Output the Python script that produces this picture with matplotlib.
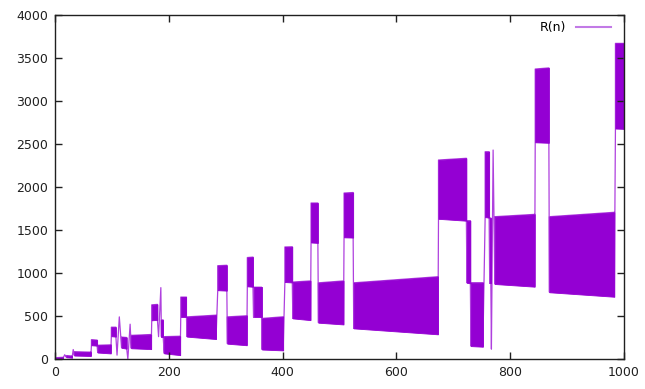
import numpy as np
import matplotlib
matplotlib.use("Agg")
import matplotlib.pyplot as plt

# pieces of R(n): each one is a band where the sequence flips between a high
# and a low value (n0..n1); a piece with n0 == n1 and hi == lo is a lone point
n0 = [0, 17, 20, 32, 34, 64, 75, 99, 109, 113, 117, 128, 132, 134, 170, 182, 186, 187,
      192, 221, 232, 286, 303, 338, 349, 364, 404, 418, 450, 463, 508, 525, 674, 724,
      731, 756, 764, 767, 770, 773, 844, 869, 985]
n1 = [14, 17, 30, 32, 63, 74, 98, 107, 109, 113, 126, 128, 132, 169, 180, 182, 186, 190,
      220, 231, 283, 302, 337, 348, 363, 401, 417, 449, 462, 507, 524, 673, 723, 730,
      752, 763, 766, 767, 770, 843, 868, 983, 1000]
hi0 = [15, 50, 40, 110, 85, 225, 160, 370, 45, 490, 255, 0, 405, 275, 630, 260, 830, 455,
       260, 720, 490, 1085, 490, 1180, 835, 472, 1303, 895, 1814, 886, 1930, 886, 2314, 1608,
       887, 2410, 1640, 115, 2430, 1655, 3372, 1655, 3670]
hi1 = [20, 50, 35, 110, 80, 220, 165, 370, 45, 490, 250, 0, 405, 285, 635, 260, 830, 455,
       265, 720, 510, 1090, 503, 1185, 835, 491, 1305, 908, 1814, 908, 1936, 957, 2334, 1608,
       887, 2410, 1640, 115, 2430, 1682, 3385, 1706, 3670]
lo0 = [0, 50, 20, 110, 40, 160, 75, 265, 45, 490, 130, 0, 405, 125, 450, 260, 830, 260,
       65, 490, 260, 800, 178, 845, 484, 110, 895, 472, 1355, 422, 1415, 356, 1630, 885,
       150, 1650, 880, 115, 2430, 872, 2520, 776, 2680]
lo1 = [5, 50, 15, 110, 35, 155, 65, 260, 45, 490, 120, 0, 405, 115, 455, 260, 830, 260,
       45, 490, 232, 795, 160, 840, 484, 100, 890, 452, 1350, 402, 1412, 287, 1608, 880,
       143, 1643, 880, 115, 2430, 841, 2514, 724, 2676]

xticks = [0, 200, 400, 600, 800, 1000]
yticks = [0, 500, 1000, 1500, 2000, 2500, 3000, 3500, 4000]

color = "#9400d3"

fig = plt.figure(figsize=(6.45, 3.89), dpi=100)
ax = fig.add_axes([0.0853, 0.0771, 0.8821, 0.8843])

# thin trace joining the pieces in order
tn, tr = [], []
for a, b, h0, h1, l0, l1 in zip(n0, n1, hi0, hi1, lo0, lo1):
    tn += [a, a, b, b]
    tr += [l0, h0, h1, l1]
ax.plot(tn, tr, color=color, lw=0.9, alpha=0.75, label="R(n)")

# the bands themselves
for a, b, h0, h1, l0, l1 in zip(n0, n1, hi0, hi1, lo0, lo1):
    if b > a:
        ax.fill_between([a, b], [l0, l1], [h0, h1], color=color, lw=0.6, edgecolor=color)

ax.set_xlim(0, 1000)
ax.set_ylim(0, 4000)
ax.set_xticks(xticks)
ax.set_yticks(yticks)
ax.tick_params(direction="in", length=5, width=1, top=True, right=True,
               labelsize=9, colors="#202020", pad=5)
for s in ax.spines.values():
    s.set_color("#202020")
    s.set_linewidth(1)

leg = ax.legend(loc="upper right", frameon=False, markerfirst=False, fontsize=9,
                handlelength=2.8, borderaxespad=0, bbox_to_anchor=(0.986, 0.997))
for h in leg.get_lines():
    h.set_color("#c27ae6")
    h.set_alpha(1)
    h.set_linewidth(1.5)

fig.savefig("out.png", dpi=100)
